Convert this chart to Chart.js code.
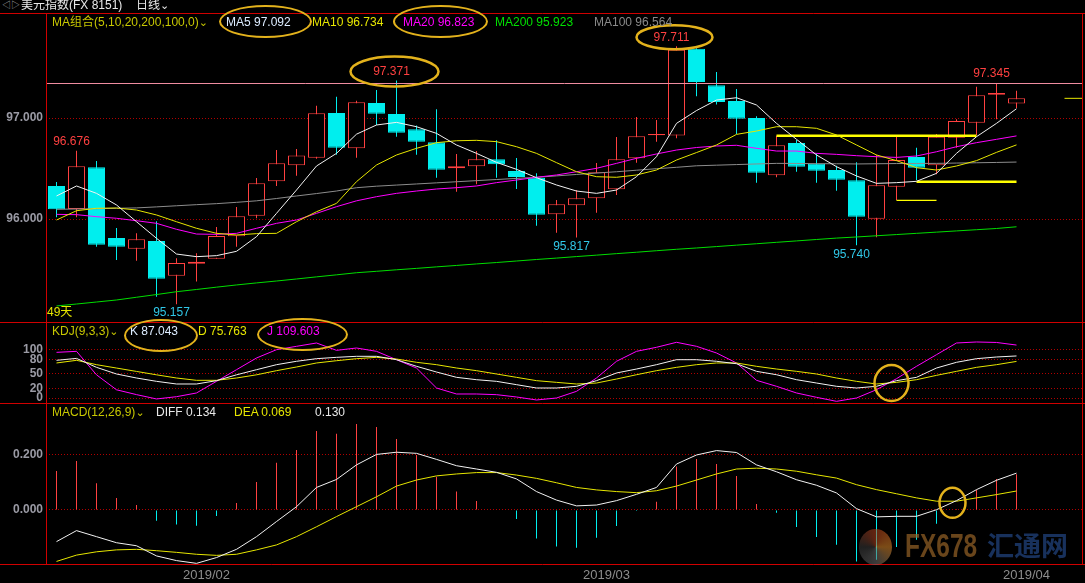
<!DOCTYPE html>
<html>
<head>
<meta charset="utf-8">
<title>美元指数 日线</title>
<script src="https://cdn.jsdelivr.net/npm/chart.js@4.4.1/dist/chart.umd.min.js"></script>
<style>
  html, body { margin: 0; background: #000; }
  body { position: relative; width: 1085px; height: 583px; overflow: hidden;
         font-family: "Liberation Sans", "Noto Sans CJK SC", sans-serif; }
  canvas { position: absolute; left: 0; }
  .t { position: absolute; font-size: 12px; line-height: 14px; white-space: nowrap; z-index: 2; }
  .v { font-family: "DejaVu Sans", sans-serif; font-size: 11px; }
  .ring { position: absolute; box-sizing: border-box; border: 2.5px solid #e3b21c; border-radius: 50%; z-index: 3; }
  .wm { position: absolute; z-index: 4; white-space: nowrap; font-weight: bold; }
</style>
</head>
<body>
<canvas id="main" width="1085" height="309" style="top:13px"></canvas>
<canvas id="kdj" width="1085" height="81" style="top:322px"></canvas>
<canvas id="macd" width="1085" height="180" style="top:403px"></canvas>

<!-- header -->
<div class="t" style="left:2px;top:-2px;color:#a0a0a0;font-size:9px">◁▷</div>
<div class="t" style="left:21px;top:-2px;color:#e8e8e8">美元指数(FX 8151)</div>
<div class="t" style="left:136px;top:-2px;color:#e8e8e8">日线<span class="v">⌄</span></div>

<div class="t" style="left:52px;top:15px;color:#c8c800">MA组合(5,10,20,200,100,0)<span class="v">⌄</span></div>
<div class="t" id="lgMa5" style="left:226px;top:15px;color:#dcecff"></div>
<div class="t" id="lgMa10" style="left:312px;top:15px;color:#e6e600"></div>
<div class="t" id="lgMa20" style="left:403px;top:15px;color:#ff00ff"></div>
<div class="t" id="lgMa200" style="left:495px;top:15px;color:#00e000"></div>
<div class="t" id="lgMa100" style="left:594px;top:15px;color:#8a8a8a"></div>
<div class="t" style="left:47px;top:305px;color:#e6e600">49天</div>

<div class="t" style="left:52px;top:324px;color:#c8c800">KDJ(9,3,3)<span class="v">⌄</span></div>
<div class="t" id="lgK" style="left:130px;top:324px;color:#dcecff"></div>
<div class="t" id="lgD" style="left:198px;top:324px;color:#e6e600"></div>
<div class="t" id="lgJ" style="left:267px;top:324px;color:#ff00ff"></div>

<div class="t" style="left:52px;top:405px;color:#c8c800">MACD(12,26,9)<span class="v">⌄</span></div>
<div class="t" id="lgDiff" style="left:156px;top:405px;color:#e8e8e8"></div>
<div class="t" id="lgDea" style="left:234px;top:405px;color:#e6e600"></div>
<div class="t" id="lgHist" style="left:315px;top:405px;color:#e8e8e8"></div>

<!-- highlight rings -->
<div class="ring" style="left:219px;top:5px;width:93px;height:33px"></div>
<div class="ring" style="left:393px;top:5px;width:95px;height:33px"></div>
<div class="ring" style="left:124px;top:319px;width:74px;height:33px"></div>
<div class="ring" style="left:257px;top:318px;width:91px;height:33px"></div>

<!-- watermark -->
<div class="wm" style="left:859px;top:529px;width:33px;height:36px;border-radius:50%;opacity:.55;
  background:conic-gradient(#b8401a,#e08a2a,#6a6a6a,#3a3a3a,#b8401a)"></div>
<div class="wm" style="left:905px;top:528px;font-size:34px;line-height:34px;color:rgba(150,98,38,.7);
  transform:scaleX(.72);transform-origin:left top;font-family:'Liberation Sans'">FX678</div>
<div class="wm" style="left:987px;top:529px;font-size:27px;line-height:32px;color:rgba(28,58,108,.85);
  font-family:'Noto Sans CJK SC'">汇通网</div>

<script>
// 美元指数 日线, 2019/01/24 - 2019/04/02
const dates = [
  '2019/01/24', '2019/01/25', '2019/01/28', '2019/01/29', '2019/01/30', '2019/01/31',
  '2019/02/01', '2019/02/04', '2019/02/05', '2019/02/06', '2019/02/07', '2019/02/08',
  '2019/02/11', '2019/02/12', '2019/02/13', '2019/02/14', '2019/02/15',
  '2019/02/18', '2019/02/19', '2019/02/20', '2019/02/21', '2019/02/22',
  '2019/02/25', '2019/02/26', '2019/02/27', '2019/02/28',
  '2019/03/01', '2019/03/04', '2019/03/05', '2019/03/06', '2019/03/07', '2019/03/08',
  '2019/03/11', '2019/03/12', '2019/03/13', '2019/03/14', '2019/03/15',
  '2019/03/18', '2019/03/19', '2019/03/20', '2019/03/21', '2019/03/22',
  '2019/03/25', '2019/03/26', '2019/03/27', '2019/03/28', '2019/03/29',
  '2019/04/01', '2019/04/02'
];

const open = [96.327, 96.100, 96.512, 95.812, 95.706, 95.782, 95.439, 95.557, 95.607, 95.829,
  96.033, 96.373, 96.532, 96.607, 97.050, 96.700, 97.149, 97.040, 96.888, 96.759,
  96.502, 96.522, 96.591, 96.475, 96.409, 96.047, 96.136, 96.205, 96.294, 96.601,
  96.829, 96.828, 97.686, 97.324, 97.168, 97.000, 96.433, 96.752, 96.548, 96.485,
  96.383, 96.003, 96.320, 96.614, 96.532, 96.805, 96.953, 97.231, 97.145];
const close = [96.096, 96.522, 95.745, 95.726, 95.799, 95.409, 95.564, 95.577, 95.832, 96.027,
  96.353, 96.551, 96.630, 97.046, 96.706, 97.155, 97.043, 96.854, 96.766, 96.488,
  96.522, 96.591, 96.542, 96.416, 96.043, 96.146, 96.205, 96.462, 96.591, 96.819,
  96.842, 97.676, 97.356, 97.158, 96.993, 96.459, 96.730, 96.518, 96.479, 96.389,
  96.023, 96.334, 96.584, 96.508, 96.815, 96.970, 97.225, 97.248, 97.195];
const high = [96.366, 96.676, 96.574, 95.911, 95.858, 95.977, 95.611, 95.660, 95.921, 96.119,
  96.406, 96.683, 96.693, 97.122, 97.211, 97.171, 97.277, 97.371, 96.927, 97.086,
  96.644, 96.673, 96.779, 96.604, 96.452, 96.188, 96.287, 96.554, 96.812, 97.010,
  96.980, 97.711, 97.690, 97.455, 97.287, 97.017, 96.825, 96.782, 96.650, 96.528,
  96.561, 96.637, 96.818, 96.706, 96.842, 96.987, 97.310, 97.345, 97.270];
const low = [96.017, 96.017, 95.726, 95.594, 95.587, 95.231, 95.157, 95.380, 95.607, 95.726,
  96.007, 96.327, 96.429, 96.597, 96.637, 96.607, 96.931, 96.815, 96.637, 96.409,
  96.270, 96.343, 96.409, 96.297, 95.934, 95.864, 95.817, 96.062, 96.238, 96.557,
  96.766, 96.800, 97.215, 97.135, 96.842, 96.360, 96.413, 96.468, 96.360, 96.280,
  95.740, 95.819, 96.188, 96.386, 96.443, 96.706, 96.832, 96.987, 97.099];

const ma5 = [96.228, 96.327, 96.254, 96.139, 95.973, 95.809, 95.653, 95.627, 95.637, 95.680,
  95.825, 96.056, 96.287, 96.525, 96.650, 96.840, 96.931, 96.957, 96.914, 96.848,
  96.733, 96.650, 96.561, 96.492, 96.409, 96.337, 96.277, 96.254, 96.287, 96.419,
  96.617, 96.947, 97.074, 97.178, 97.201, 97.129, 96.947, 96.789, 96.634, 96.518,
  96.426, 96.353, 96.360, 96.373, 96.452, 96.650, 96.815, 96.947, 97.092];
const ma10 = [95.990, 96.082, 96.106, 96.109, 96.089, 96.040, 95.973, 95.908, 95.858, 95.842,
  95.855, 95.858, 95.973, 96.072, 96.155, 96.370, 96.535, 96.634, 96.700, 96.756,
  96.775, 96.779, 96.766, 96.716, 96.650, 96.558, 96.468, 96.419, 96.413, 96.436,
  96.485, 96.584, 96.658, 96.733, 96.838, 96.871, 96.914, 96.914, 96.898, 96.832,
  96.733, 96.634, 96.578, 96.508, 96.485, 96.525, 96.578, 96.660, 96.734];
const ma20 = [96.046, 96.043, 96.023, 96.007, 95.983, 95.957, 95.898, 95.851, 95.848, 95.858,
  95.908, 95.957, 95.990, 96.056, 96.122, 96.180, 96.221, 96.254, 96.277, 96.297,
  96.310, 96.327, 96.360, 96.386, 96.413, 96.436, 96.468, 96.502, 96.551, 96.601,
  96.644, 96.683, 96.708, 96.723, 96.730, 96.700, 96.673, 96.673, 96.650, 96.640,
  96.627, 96.617, 96.610, 96.624, 96.666, 96.716, 96.756, 96.789, 96.823];
const ma100 = [96.096, 96.099, 96.102, 96.106, 96.110, 96.120, 96.131, 96.142, 96.152, 96.165,
  96.180, 96.203, 96.228, 96.252, 96.277, 96.310, 96.325, 96.336, 96.347, 96.358,
  96.369, 96.380, 96.391, 96.402, 96.413, 96.427, 96.441, 96.455, 96.468, 96.483,
  96.498, 96.512, 96.527, 96.533, 96.539, 96.545, 96.551, 96.550, 96.548, 96.547,
  96.545, 96.547, 96.549, 96.550, 96.551, 96.554, 96.557, 96.560, 96.564];
const ma200 = [95.139, 95.158, 95.178, 95.198, 95.225, 95.252, 95.280, 95.302, 95.325, 95.347,
  95.367, 95.386, 95.406, 95.427, 95.447, 95.468, 95.482, 95.497, 95.511, 95.526,
  95.540, 95.555, 95.569, 95.584, 95.599, 95.613, 95.628, 95.642, 95.657, 95.671,
  95.686, 95.700, 95.713, 95.727, 95.741, 95.755, 95.769, 95.783, 95.797, 95.811,
  95.822, 95.834, 95.846, 95.858, 95.870, 95.882, 95.894, 95.906, 95.923];

// KDJ(9,3,3)
const kLine = [78.0, 82.0, 63.5, 49.7, 41.4, 34.5, 29.0, 29.0, 35.9, 48.0,
  58.6, 69.0, 76.0, 81.4, 84.2, 86.3, 86.3, 79.3, 65.6, 53.8,
  42.8, 37.9, 34.5, 27.6, 20.7, 20.7, 24.2, 35.9, 51.8, 60.0,
  69.0, 79.3, 79.3, 76.0, 71.0, 55.2, 48.2, 37.9, 31.0, 24.2,
  20.7, 24.2, 35.9, 42.8, 62.1, 73.9, 81.4, 84.9, 87.043];
const dLine = [72.5, 78.0, 69.0, 62.0, 55.0, 48.0, 41.4, 36.6, 36.6, 41.4,
  48.0, 56.6, 64.2, 72.5, 77.2, 81.4, 84.2, 80.7, 73.9, 69.0,
  62.1, 56.6, 49.7, 42.8, 35.9, 32.4, 29.0, 31.0, 39.3, 48.2,
  56.6, 63.5, 69.0, 72.5, 72.5, 65.6, 60.0, 55.2, 49.7, 41.4,
  34.5, 29.0, 32.4, 37.9, 46.9, 55.2, 63.5, 69.0, 75.763];
const jLine = [94.5, 96.6, 48.0, 17.0, 7.0, -2.0, 2.7, 10.4, 34.5, 58.6,
  82.8, 100.0, 107.0, 113.9, 98.7, 103.5, 96.6, 79.3, 62.0, 20.7,
  8.3, 8.3, 6.9, 2.1, -4.1, 0.0, 13.8, 41.4, 76.0, 96.6,
  105.0, 115.3, 107.0, 93.2, 72.5, 36.6, 24.2, 10.4, 1.4, -6.9,
  0.0, 17.2, 40.0, 65.6, 89.7, 113.9, 116.0, 115.0, 109.603];

// MACD(12,26,9)
const diff = [-0.115, -0.075, -0.097, -0.119, -0.130, -0.167, -0.184, -0.194, -0.173, -0.143,
  -0.097, -0.042, 0.012, 0.082, 0.111, 0.164, 0.202, 0.210, 0.206, 0.184,
  0.161, 0.149, 0.137, 0.113, 0.067, 0.036, 0.015, 0.018, 0.034, 0.057,
  0.082, 0.167, 0.200, 0.216, 0.209, 0.164, 0.139, 0.110, 0.090, 0.062,
  0.005, -0.025, -0.023, -0.023, 0.001, 0.034, 0.074, 0.108, 0.134];
const dea = [-0.187, -0.164, -0.152, -0.145, -0.143, -0.148, -0.154, -0.161, -0.165, -0.161,
  -0.145, -0.127, -0.097, -0.061, -0.024, 0.012, 0.048, 0.087, 0.109, 0.124,
  0.131, 0.136, 0.136, 0.127, 0.115, 0.099, 0.082, 0.073, 0.067, 0.063,
  0.070, 0.087, 0.109, 0.131, 0.149, 0.152, 0.149, 0.141, 0.128, 0.116,
  0.092, 0.074, 0.059, 0.044, 0.032, 0.032, 0.044, 0.056, 0.069];
const macdHist = [0.142, 0.178, 0.097, 0.044, 0.018, -0.039, -0.053, -0.057, -0.022, 0.025,
  0.102, 0.172, 0.218, 0.287, 0.277, 0.313, 0.302, 0.258, 0.200, 0.121,
  0.067, 0.033, 0.002, -0.033, -0.104, -0.133, -0.137, -0.101, -0.058, -0.004,
  0.030, 0.158, 0.185, 0.167, 0.124, 0.022, -0.010, -0.062, -0.098, -0.126,
  -0.187, -0.181, -0.135, -0.108, -0.050, 0.004, 0.074, 0.113, 0.130];

const priceTicks = [96, 97];
const kdjTicks = [0, 20, 50, 80, 100];
const macdTicks = [0, 0.2];

// marked highs / lows, drawn lines
const peakIdx = [1, 17, 31, 47];
const troughIdx = [6, 26, 40];
const resistance = 97.345;
const segFrom = [36, 43, 42];
const segTo = [46, 48, 44];
const segLevel = [96.825, 96.369, 96.185];
const kdjCross = [41.75, 31];
const macdCross = [44.8, 0.026];

// ---- styling ----
const RED = '#ff4040', CYAN = '#00eeee', GOLD = '#e3b21c', FRAME = '#d00000';
const X_MIN = -0.525, X_MAX = 51.325;
Chart.defaults.font.family = '"Liberation Sans", "Noto Sans CJK SC", sans-serif';
Chart.defaults.animation = false;

const last = a => a[a.length - 1];
const pts = a => a.map((y, i) => ({ x: i, y }));
const isUp = i => close[i] >= open[i];
const monthStarts = dates.map((d, i) => i).filter(i => i > 0 && dates[i].slice(5, 7) !== dates[i - 1].slice(5, 7));

document.getElementById('lgMa5').textContent = 'MA5 ' + last(ma5).toFixed(3);
document.getElementById('lgMa10').textContent = 'MA10 ' + last(ma10).toFixed(3);
document.getElementById('lgMa20').textContent = 'MA20 ' + last(ma20).toFixed(3);
document.getElementById('lgMa200').textContent = 'MA200 ' + last(ma200).toFixed(3);
document.getElementById('lgMa100').textContent = 'MA100 ' + last(ma100).toFixed(3);
document.getElementById('lgK').textContent = 'K ' + last(kLine).toFixed(3);
document.getElementById('lgD').textContent = 'D ' + last(dLine).toFixed(3);
document.getElementById('lgJ').textContent = 'J ' + last(jLine).toFixed(3);
document.getElementById('lgDiff').textContent = 'DIFF ' + last(diff).toFixed(3);
document.getElementById('lgDea').textContent = 'DEA ' + last(dea).toFixed(3);
document.getElementById('lgHist').textContent = last(macdHist).toFixed(3);

const lineDs = (label, data, color, width) => ({
  type: 'line', label, data, borderColor: color, borderWidth: width || 1,
  pointRadius: 0, tension: 0, fill: false, order: 0
});

const fitY = s => { s.width = 46; s.paddingTop = 0; s.paddingBottom = 0; };
const yAxis = (min, max, ticks, fmt) => ({
  min, max,
  afterFit: fitY,
  afterBuildTicks: s => { s.ticks = ticks.map(v => ({ value: v })); },
  ticks: { autoSkip: false, padding: 3, color: '#9a9aa4', font: { size: 12, weight: 'bold' }, callback: fmt },
  grid: { color: '#b00000', drawTicks: false },
  border: { display: false, dash: [1, 2] }
});
const hiddenX = { type: 'linear', min: X_MIN, max: X_MAX, offset: false, display: false };

// red frame of each pane
const frame = {
  id: 'frame',
  afterDraw(chart, args, opts) {
    const { ctx, chartArea: a, width } = chart;
    ctx.save();
    ctx.strokeStyle = FRAME;
    ctx.lineWidth = 1;
    ctx.beginPath();
    ctx.moveTo(0, a.top + 0.5); ctx.lineTo(width, a.top + 0.5);
    ctx.moveTo(a.left + 0.5, a.top); ctx.lineTo(a.left + 0.5, a.bottom);
    ctx.moveTo(a.right - 0.5, a.top); ctx.lineTo(a.right - 0.5, a.bottom);
    if (opts.bottom) { ctx.moveTo(0, a.bottom - 0.5); ctx.lineTo(width, a.bottom - 0.5); }
    ctx.stroke();
    ctx.restore();
  }
};

// golden circles around crossings
const rings = {
  id: 'rings',
  afterDatasetsDraw(chart, args, opts) {
    const { ctx, scales: { x, y } } = chart;
    ctx.save();
    ctx.strokeStyle = GOLD;
    ctx.lineWidth = 2.5;
    (opts.items || []).forEach(r => {
      ctx.beginPath();
      ctx.ellipse(x.getPixelForValue(r.at[0]), y.getPixelForValue(r.at[1]), r.rx, r.ry, 0, 0, Math.PI * 2);
      ctx.stroke();
    });
    ctx.restore();
  }
};

// high/low labels and the resistance line
const ringedPeaks = { 17: [44, 15], 31: [38, 12] };
const marks = {
  id: 'marks',
  afterDatasetsDraw(chart) {
    const { ctx, chartArea: a, scales: { x, y } } = chart;
    ctx.save();
    const ry = Math.round(y.getPixelForValue(resistance)) + 0.5;
    ctx.strokeStyle = '#f08ca0';
    ctx.lineWidth = 1;
    ctx.beginPath(); ctx.moveTo(a.left, ry); ctx.lineTo(a.right, ry); ctx.stroke();

    ctx.font = '12px "Liberation Sans"';
    ctx.textAlign = 'center';
    ctx.textBaseline = 'middle';
    peakIdx.forEach(i => {
      const px = x.getPixelForValue(i) - 5, py = y.getPixelForValue(high[i]) - 9;
      ctx.fillStyle = RED;
      ctx.fillText(high[i].toFixed(3), px, py);
      const r = ringedPeaks[i];
      if (r) {
        ctx.strokeStyle = GOLD; ctx.lineWidth = 2.5;
        ctx.beginPath(); ctx.ellipse(px + 3, py, r[0], r[1], 0, 0, Math.PI * 2); ctx.stroke();
      }
    });
    troughIdx.forEach(i => {
      ctx.fillStyle = '#30c8e8';
      ctx.fillText(low[i].toFixed(3), x.getPixelForValue(i) - 5, y.getPixelForValue(low[i]) + 9);
    });
    ctx.restore();
  }
};

// ---- main pane: candles + MA ----
const segs = segFrom.map((f, k) => lineDs('seg' + k,
  [{ x: f, y: segLevel[k] }, { x: segTo[k], y: segLevel[k] }], '#ffff00', k < 2 ? 2.5 : 1.2));

new Chart(document.getElementById('main'), {
  type: 'bar',
  data: {
    datasets: [
      lineDs('MA5', pts(ma5), '#f2f2f2'),
      lineDs('MA10', pts(ma10), '#e6e600'),
      lineDs('MA20', pts(ma20), '#ff00ff'),
      lineDs('MA100', pts(ma100), '#8c8c8c'),
      lineDs('MA200', pts(ma200), '#00dd00'),
      ...segs,
      lineDs('last', [{ x: 50.4, y: last(close) }, { x: X_MAX, y: last(close) }], '#e6e600'),
      {
        label: 'body', order: 1, grouped: false, barThickness: 17, inflateAmount: 0,
        data: open.map((o, i) => ({ x: i, y: [o, close[i]] })),
        backgroundColor: c => isUp(c.dataIndex) ? '#000' : CYAN,
        borderColor: c => isUp(c.dataIndex) ? RED : CYAN,
        borderWidth: 1, borderSkipped: false
      },
      {
        label: 'wick', order: 2, grouped: false, barThickness: 1, inflateAmount: 0,
        data: low.map((l, i) => ({ x: i, y: [l, high[i]] })),
        backgroundColor: c => isUp(c.dataIndex) ? RED : CYAN,
        borderWidth: 0
      }
    ]
  },
  options: {
    responsive: false,
    events: [],
    layout: { padding: { left: 0, right: 2, top: 0, bottom: 0 } },
    scales: {
      x: hiddenX,
      y: yAxis(94.98, 98.04, priceTicks, v => v.toFixed(3))
    },
    plugins: { legend: { display: false }, tooltip: { enabled: false }, frame: {} }
  },
  plugins: [marks, frame]
});

// ---- KDJ pane ----
new Chart(document.getElementById('kdj'), {
  type: 'line',
  data: {
    datasets: [
      lineDs('K', pts(kLine), '#f2f2f2'),
      lineDs('D', pts(dLine), '#e6e600'),
      lineDs('J', pts(jLine), '#ff00ff')
    ]
  },
  options: {
    responsive: false,
    events: [],
    layout: { padding: { left: 0, right: 2, top: 0, bottom: 0 } },
    scales: {
      x: hiddenX,
      y: yAxis(-10.35, 157.35, kdjTicks, v => String(v))
    },
    plugins: {
      legend: { display: false }, tooltip: { enabled: false }, frame: {},
      rings: { items: [{ at: kdjCross, rx: 17, ry: 18 }] }
    }
  },
  plugins: [rings, frame]
});

// ---- MACD pane ----
new Chart(document.getElementById('macd'), {
  type: 'bar',
  data: {
    datasets: [
      lineDs('DIFF', pts(diff), '#f2f2f2'),
      lineDs('DEA', pts(dea), '#e6e600'),
      {
        label: 'MACD', order: 1, grouped: false, barThickness: 1, inflateAmount: 0,
        data: pts(macdHist),
        backgroundColor: c => macdHist[c.dataIndex] >= 0 ? RED : CYAN,
        borderWidth: 0
      }
    ]
  },
  options: {
    responsive: false,
    events: [],
    layout: { padding: { left: 0, right: 2, top: 0, bottom: 0 } },
    scales: {
      x: {
        type: 'linear', min: X_MIN, max: X_MAX, offset: false,
        afterBuildTicks: s => { s.ticks = monthStarts.map(v => ({ value: v })); },
        afterFit: s => { s.height = 18; s.paddingLeft = 0; s.paddingRight = 0; },
        ticks: {
          autoSkip: false, maxRotation: 0, align: 'start', labelOffset: 6.5, padding: 3,
          color: '#8c8c8c', font: { size: 13 },
          callback: (v, i) => dates[monthStarts[i]].slice(0, 7)
        },
        grid: { display: false, drawTicks: false },
        border: { display: false }
      },
      y: yAxis(-0.2, 0.389, macdTicks, v => v.toFixed(3))
    },
    plugins: {
      legend: { display: false }, tooltip: { enabled: false }, frame: { bottom: true },
      rings: { items: [{ at: macdCross, rx: 13, ry: 15 }] }
    }
  },
  plugins: [rings, frame]
});
</script>
</body>
</html>
